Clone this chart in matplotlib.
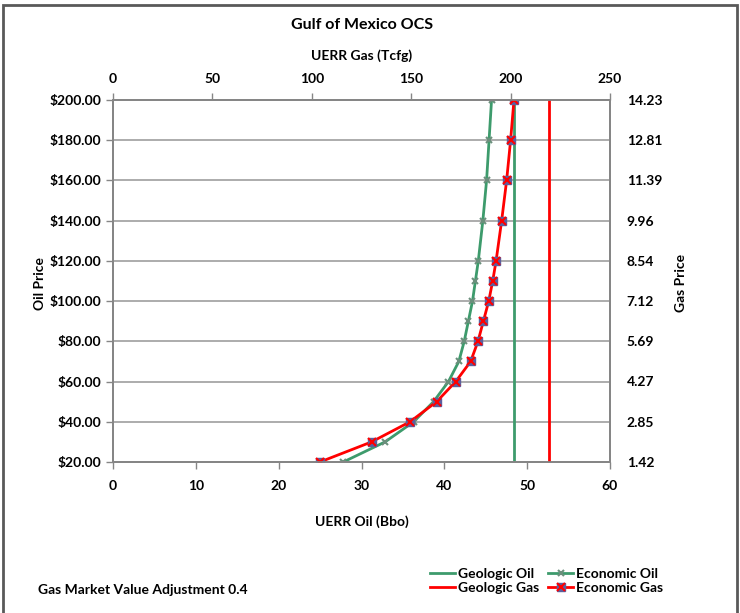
import matplotlib
matplotlib.use("Agg")
import matplotlib.pyplot as plt
from matplotlib.patches import Rectangle
from matplotlib.ticker import FuncFormatter

plt.rcParams['font.family'] = ['Lato', 'DejaVu Sans']
plt.rcParams['font.weight'] = 'bold'

# oil price levels ($/bbl) and the matching gas price labels
oil_price = [20, 30, 40, 50, 60, 70, 80, 90, 100, 110, 120, 140, 160, 180, 200]
gas_price_ticks = [1.42, 2.85, 4.27, 5.69, 7.12, 8.54, 9.96, 11.39, 12.81, 14.23]

# undiscovered economically recoverable resources
econ_oil = [27.8, 32.85, 36.3, 38.7, 40.5, 41.75, 42.4, 42.9, 43.4, 43.75,
            44.1, 44.65, 45.1, 45.4, 45.7]          # Bbo
econ_gas = [104.1, 130.1, 149.4, 162.8, 172.4, 179.9, 183.6, 186.3, 189.0,
            191.0, 192.7, 195.5, 198.0, 200.0, 201.7]  # Tcfg
geo_oil = [48.4] * len(oil_price)    # Bbo
geo_gas = [219.5] * len(oil_price)   # Tcfg

green = '#3d9b6c'
red = '#ff0000'
axis_gray = '#868686'
grid_gray = '#a6a6a6'

fig = plt.figure(figsize=(7.4, 6.13), dpi=100)
ax = fig.add_axes([113 / 740, 1 - 462 / 613, 497 / 740, 362 / 613])

ax.set_xlim(0, 60)
ax.set_ylim(20, 200)
ax.set_xticks(range(0, 61, 10))
ax.set_yticks(range(20, 201, 20))
ax.yaxis.set_major_formatter(FuncFormatter(lambda v, p: f'${v:.2f}'))
ax.grid(axis='y', color=grid_gray, lw=1.3)
ax.set_axisbelow(True)

ax_gas = ax.twiny()
ax_gas.set_xlim(0, 250)
ax_gas.set_xticks(range(0, 251, 50))

ax_r = ax.twinx()
ax_r.set_ylim(1.42, 14.23)
ax_r.set_yticks(gas_price_ticks)
ax_r.set_yticklabels([f'{v:.2f}' for v in gas_price_ticks])

for a in (ax, ax_gas, ax_r):
    for s in a.spines.values():
        s.set_color(axis_gray)
        s.set_linewidth(1.2)
    a.tick_params(colors=axis_gray, labelcolor='black', labelsize=10,
                  width=1.0, length=5)
ax_r.tick_params(length=0, pad=12)
ax.tick_params(axis='x', pad=8)
ax_gas.tick_params(axis='x', pad=6)

# oil curves against the bottom axis
l_geo_oil, = ax.plot(geo_oil, oil_price, color=green, lw=2.0, zorder=3)
l_eco_oil, = ax.plot(econ_oil, oil_price, color=green, lw=2.0, marker='x',
                     ms=4, mew=1.5, mec='#6b8f7c', zorder=4)

# gas curves against the top axis
l_geo_gas, = ax_gas.plot(geo_gas, oil_price, color=red, lw=2.0, zorder=3)
l_eco_gas, = ax_gas.plot(econ_gas, oil_price, color=red, lw=2.0, marker='s',
                         ms=5.5, mfc='#5b5f9e', mec='#5b5f9e', zorder=4)
ax_gas.plot(econ_gas, oil_price, ls='none', marker='x', ms=5.5, mew=1.5,
            color=red, zorder=5)
mk_gas, = ax.plot([], [], ls='none', marker='x', ms=5.5, mew=1.5, color=red)

fig.text(362 / 740, 1 - 25 / 613, 'Gulf of Mexico OCS', ha='center',
         va='center', fontsize=11.5)
fig.text(362 / 740, 1 - 56 / 613, 'UERR Gas (Tcfg)', ha='center',
         va='center', fontsize=10)
fig.text(362 / 740, 1 - 522 / 613, 'UERR Oil (Bbo)', ha='center',
         va='center', fontsize=10)
fig.text(40 / 740, 1 - 283 / 613, 'Oil Price', ha='center', va='center',
         rotation=90, fontsize=10)
fig.text(681 / 740, 1 - 283 / 613, 'Gas Price', ha='center', va='center',
         rotation=90, fontsize=10)
fig.text(38 / 740, 1 - 590 / 613, 'Gas Market Value Adjustment 0.4',
         ha='left', va='center', fontsize=10)

fig.legend([l_geo_oil, l_geo_gas, l_eco_oil, (l_eco_gas, mk_gas)],
           ['Geologic Oil', 'Geologic Gas', 'Economic Oil', 'Economic Gas'],
           ncol=2, frameon=False, fontsize=10, loc='center left',
           bbox_to_anchor=(423 / 740, 1 - 581 / 613), handlelength=1.8,
           handletextpad=0.25, columnspacing=0.6, labelspacing=0.15,
           borderpad=0, numpoints=1)

fig.patches.append(Rectangle((3 / 740, -0.1), 734 / 740, 1.092,
                             transform=fig.transFigure, fill=False,
                             ec='#595959', lw=2.0))

fig.savefig('out.png', dpi=100)
